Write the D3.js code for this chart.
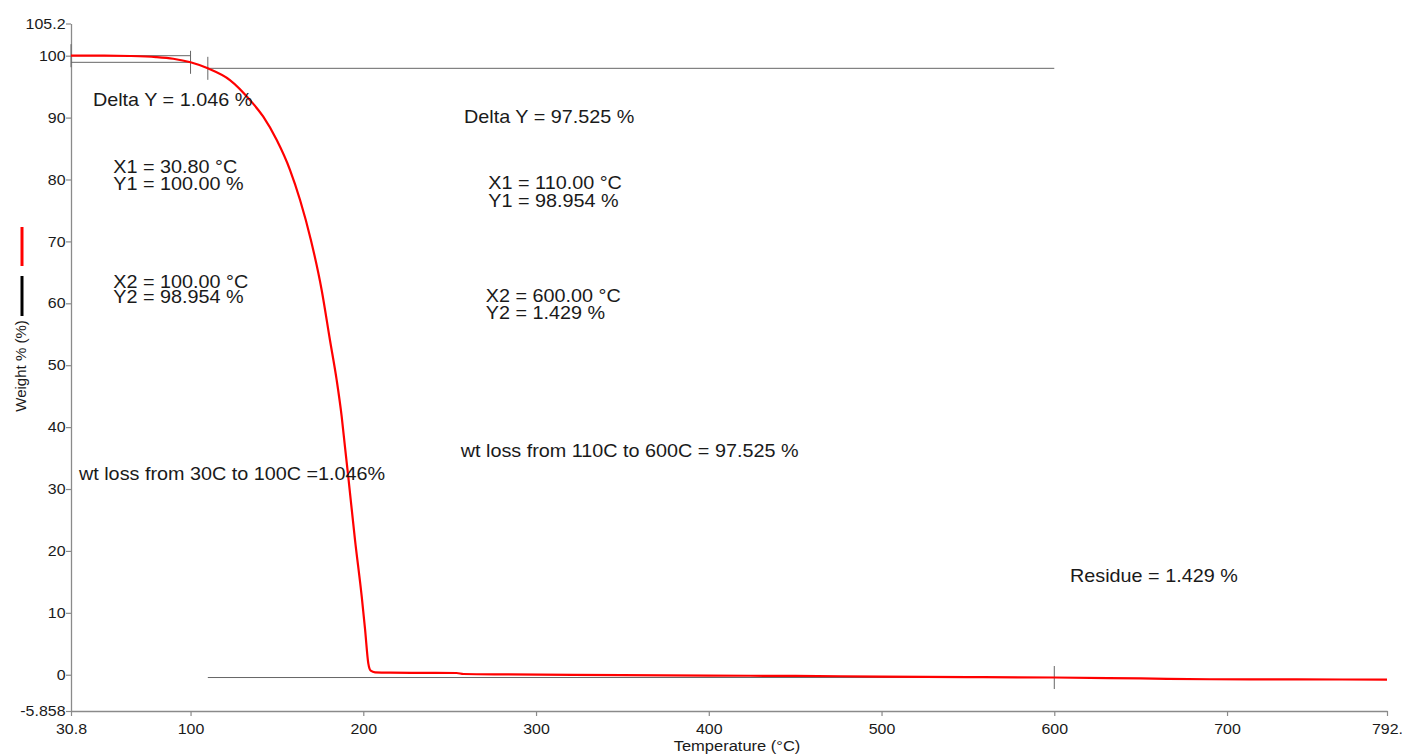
<!DOCTYPE html>
<html>
<head>
<meta charset="utf-8">
<script src="https://cdn.jsdelivr.net/npm/d3@7"></script>
<style>
  html, body { margin: 0; padding: 0; background: #fff; }
  svg { display: block; font-family: "Liberation Sans", Arial, sans-serif; }
</style>
</head>
<body>
<svg id="chart" width="1402" height="754"></svg>
<script>
// TGA curve: sample temperature (°C) and remaining weight (%)
const temperature = [30.8, 50, 65, 80, 90, 100, 110, 122.8, 134.4, 142.1,
  149.9, 157.6, 163.4, 169.7, 175.9, 180.7, 184.6, 187.5, 189.4, 191.3,
  195.2, 199.1, 201.0, 202.9, 204.3, 206.8, 215.5, 254, 258, 283,
  350, 400, 450, 500, 550, 600, 650, 690, 740, 792.6];
const weight = [100.0, 100.0, 99.95, 99.78, 99.5, 98.93, 97.96, 96.07, 92.84, 90.14,
  86.37, 81.53, 76.69, 70.2, 62.16, 54.07, 47.6, 41.7, 36.8, 32.0,
  21.8, 12.6, 7.4, 1.84, 0.65, 0.39, 0.33, 0.28, 0.12, 0.05,
  -0.05, -0.13, -0.2, -0.29, -0.37, -0.45, -0.6, -0.73, -0.76, -0.78];

// Axis extents and ticks
const xDomain = [30.8, 792.6];
const yDomain = [-5.858, 105.2];
const xTicks = [30.8, 100, 200, 300, 400, 500, 600, 700, 792.6];
const xTickLabels = ["30.8", "100", "200", "300", "400", "500", "600", "700", "792."];
const yTicks = [105.2, 100, 90, 80, 70, 60, 50, 40, 30, 20, 10, 0, -5.858];
const yTickLabels = ["105.2", "100", "90", "80", "70", "60", "50", "40", "30", "20", "10", "0", "-5.858"];

// Step analysis ranges (start, end temperature)
const stepRanges = [[30.8, 100], [110, 600]];

// Analysis labels anchored in data units (temperature, weight)
const noteText = [
  "Delta Y = 1.046 %", "X1 = 30.80 °C", "Y1 = 100.00 %", "X2 = 100.00 °C", "Y2 = 98.954 %",
  "wt loss from 30C to 100C =1.046%",
  "Delta Y = 97.525 %", "X1 = 110.00 °C", "Y1 = 98.954 %", "X2 = 600.00 °C", "Y2 = 1.429 %",
  "wt loss from 110C to 600C = 97.525 %", "Residue = 1.429 %"
];
const noteTemp = [43.5, 55.3, 55.3, 55.3, 55.3, 35.4, 258.3, 272.4, 272.4, 270.9, 270.9, 256.4, 609.1];
const noteWeight = [91.87, 81.1, 78.3, 62.4, 60.1, 31.5, 89.1, 78.46, 75.6, 60.16, 57.5, 35.12, 14.97];

const W = 1402, H = 754;
const plot = { left: 71, right: 1387, top: 23.5, bottom: 711 };
const SX = 1.1;            // glyphs are drawn slightly wide
const textColor = "#1a1a1a";
const axisColor = "#8a8a8a";

const svg = d3.select("#chart");
svg.append("rect").attr("width", W).attr("height", H).attr("fill", "#fff");

const x = d3.scaleLinear().domain(xDomain).range([plot.left, plot.right]);
const y = d3.scaleLinear().domain(yDomain).range([plot.bottom, plot.top]);

// Linear interpolation of the measured curve
function weightAt(t) {
  const i = d3.bisectLeft(temperature, t);
  if (i <= 0) return weight[0];
  if (i >= temperature.length) return weight[weight.length - 1];
  const t0 = temperature[i - 1], t1 = temperature[i];
  const f = (t - t0) / (t1 - t0);
  return weight[i - 1] + f * (weight[i] - weight[i - 1]);
}

// Axes
const xAxis = d3.axisBottom(x)
  .tickValues(xTicks)
  .tickFormat((d, i) => xTickLabels[i])
  .tickSize(5).tickSizeOuter(0).tickPadding(8);
const yAxis = d3.axisLeft(y)
  .tickValues(yTicks)
  .tickFormat((d, i) => yTickLabels[i])
  .tickSize(5).tickSizeOuter(0).tickPadding(0);

function styleAxis(g) {
  g.attr("font-family", null).attr("font-size", null);
  g.select(".domain").attr("stroke", axisColor).attr("stroke-width", 1.3);
  g.selectAll(".tick line").attr("stroke", axisColor).attr("stroke-width", 1.2);
  g.selectAll(".tick text")
    .attr("fill", textColor)
    .attr("font-size", 14.5)
    .attr("transform", `scale(${SX},1)`);
}

svg.append("g")
  .attr("transform", `translate(0,${plot.bottom})`)
  .call(xAxis).call(styleAxis);
svg.append("g")
  .attr("transform", `translate(${plot.left},0)`)
  .call(yAxis).call(styleAxis);

// Step analysis guide lines
const guides = svg.append("g").attr("stroke", "#666").attr("stroke-width", 1).attr("fill", "none");
stepRanges.forEach(([t1, t2]) => {
  const w1 = weightAt(t1), w2 = weightAt(t2);
  [w1, w2].forEach(w => {
    guides.append("line")
      .attr("x1", x(t1)).attr("x2", x(t2))
      .attr("y1", y(w)).attr("y2", y(w));
  });
  [[t1, w1], [t2, w2]].forEach(([t, w]) => {
    guides.append("line")
      .attr("x1", x(t)).attr("x2", x(t))
      .attr("y1", y(w) - 11.5).attr("y2", y(w) + 11.5);
  });
});

// Weight curve
const line = d3.line()
  .x((d, i) => x(temperature[i]))
  .y(d => y(d))
  .curve(d3.curveMonotoneX);
svg.append("path")
  .datum(weight)
  .attr("d", line)
  .attr("fill", "none")
  .attr("stroke", "#ff0000")
  .attr("stroke-width", 2.2)
  .attr("stroke-linejoin", "round");

// Annotation text
const notes = svg.append("g").attr("fill", textColor).attr("font-size", 18);
noteText.forEach((s, i) => {
  notes.append("text")
    .attr("transform", `translate(${x(noteTemp[i])},${y(noteWeight[i])}) scale(${SX},1)`)
    .text(s);
});

// Axis titles
svg.append("text")
  .attr("transform", `translate(737,751) scale(${SX},1)`)
  .attr("text-anchor", "middle")
  .attr("font-size", 15)
  .attr("fill", textColor)
  .text("Temperature (°C)");
svg.append("text")
  .attr("transform", "translate(26,366) rotate(-90)")
  .attr("text-anchor", "middle")
  .attr("font-size", 15)
  .attr("fill", textColor)
  .text("Weight % (%)");

// Series swatches beside the y title
svg.append("line")
  .attr("x1", 22).attr("x2", 22).attr("y1", 227).attr("y2", 266)
  .attr("stroke", "#ff0000").attr("stroke-width", 3);
svg.append("line")
  .attr("x1", 22).attr("x2", 22).attr("y1", 276).attr("y2", 316)
  .attr("stroke", "#000").attr("stroke-width", 3);
</script>
</body>
</html>
